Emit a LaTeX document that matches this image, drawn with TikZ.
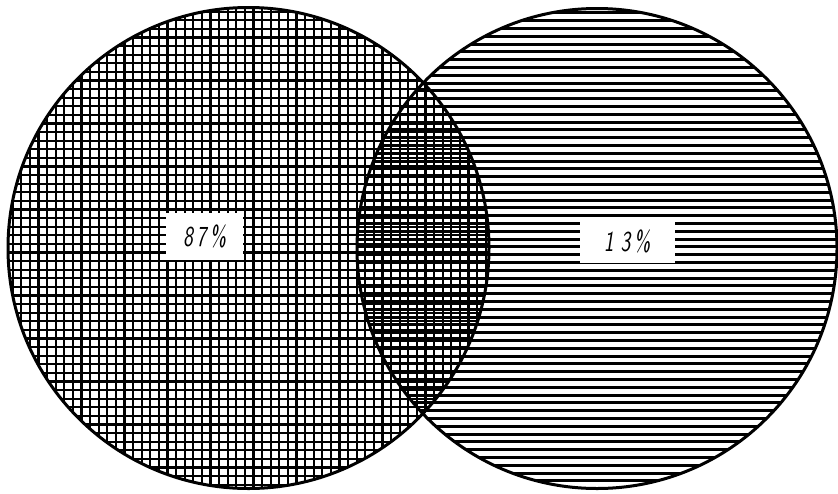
\documentclass[tikz,border=0pt]{standalone}
\usepackage{graphicx}
\tikzset{
  gridline/.style={line width=2.2pt, black},
  hline/.style={line width=3pt, black},
  rim/.style={line width=3pt, black},
  labelbox/.style={fill=white, inner sep=0pt, font=\fontsize{29}{31}\selectfont\sffamily\itshape}
}
\begin{document}
\begin{tikzpicture}[x=1pt,y=-1pt]
\useasboundingbox (0,0) rectangle (838,493);
\coordinate (cl) at (248.5,248);
\coordinate (cr) at (597,248.5);
% left circle: square grid
\begin{scope}
  \clip (cl) circle (240.5pt);
  \foreach \i in {0,...,58} {
    \draw[gridline] (4+\i*8.6,0) -- (4+\i*8.6,493);
  }
  \foreach \j in {0,...,58} {
    \draw[gridline] (0,3+\j*8.6) -- (838,3+\j*8.6);
  }
\end{scope}
% right circle: horizontal lines
\begin{scope}
  \clip (cr) circle (240pt);
  \foreach \j in {0,...,64} {
    \draw[hline] (340,5+\j*7.8) -- (838,5+\j*7.8);
  }
\end{scope}
\draw[rim] (cl) circle (240.5pt);
\draw[rim] (cr) circle (240pt);
% labels
\node[labelbox, minimum width=77pt, minimum height=47pt] (l87) at (204.5,236) {\scalebox{0.72}[1]{8\,7\,\%}};
\node[labelbox, minimum width=95pt, minimum height=43pt] (l13) at (627,241.5) {\scalebox{0.72}[1]{1\,\,3\,\%}};
\end{tikzpicture}
\end{document}
